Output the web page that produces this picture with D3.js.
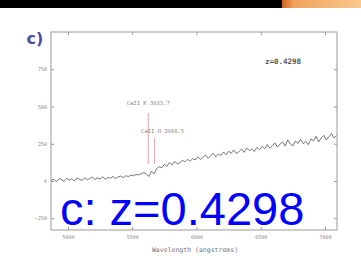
<!DOCTYPE html>
<html>
<head>
<meta charset="utf-8">
<script src="https://cdn.jsdelivr.net/npm/d3@7"></script>
<style>
  body { margin: 0; background: #fff; }
  svg { display: block; }
</style>
</head>
<body>
<script>
// spectrum (wavelength in angstroms, flux)
var wavelengths = [4870, 4890, 4910, 4930, 4950, 4970, 4990, 5010, 5030, 5050, 5070, 5090, 5110, 5130,
  5150, 5170, 5190, 5210, 5230, 5250, 5270, 5290, 5310, 5330, 5350, 5370, 5390, 5410, 5430, 5450,
  5470, 5490, 5510, 5530, 5550, 5570, 5590, 5610, 5630, 5650, 5670, 5690, 5710, 5730, 5750, 5770,
  5790, 5810, 5830, 5850, 5870, 5890, 5910, 5930, 5950, 5970, 5990, 6010, 6030, 6050, 6070, 6090,
  6110, 6130, 6150, 6170, 6190, 6210, 6230, 6250, 6270, 6290, 6310, 6330, 6350, 6370, 6390, 6410,
  6430, 6450, 6470, 6490, 6510, 6530, 6550, 6570, 6590, 6610, 6630, 6650, 6670, 6690, 6710, 6730,
  6750, 6770, 6790, 6810, 6830, 6850, 6870, 6890, 6910, 6930, 6950, 6970, 6990, 7010, 7030, 7050,
  7070, 7090];
var flux = [4, 12, -6, 15, 9, -2, 18, 6, 14, 0, 20, 11, 4, 22,
  8, 17, 26, 9, 21, 14, 28, 12, 24, 19, 30, 16, 27, 33, 22, 36,
  29, 40, 35, 44, 41, 50, 56, 48, 30, 66, 48, 84, 96, 88, 112, 98,
  124, 108, 130, 116, 121, 140, 128, 146, 132, 150, 141, 162, 144, 158, 175, 152,
  170, 186, 162, 180, 172, 195, 176, 200, 186, 208, 184, 196, 215, 192, 222, 204,
  214, 198, 226, 210, 232, 216, 244, 220, 236, 256, 228, 248, 262, 234, 276, 248,
  236, 268, 252, 280, 250, 266, 244, 282, 270, 300, 262, 288, 306, 276, 296, 318,
  288, 304];

var xTicks = [5000, 5500, 6000, 6500, 7000];
var yTicks = [-250, 0, 250, 500, 750];

var redshift = 0.4298;
var lineNames = ["CaII K 3933.7", "CaII H 3968.5"];
var lineRest = [3933.7, 3968.5];

var W = 361, H = 256;
var frame = {left: 51, right: 337, top: 32, bottom: 230};

var svg = d3.select("body").append("svg")
    .attr("width", W)
    .attr("height", H);

// top strip of the slide
var defs = svg.append("defs");
var grad = defs.append("linearGradient").attr("id", "orange");
grad.append("stop").attr("offset", "0").attr("stop-color", "#c8641e");
grad.append("stop").attr("offset", "0.15").attr("stop-color", "#f2a35e");
grad.append("stop").attr("offset", "1").attr("stop-color", "#f8c88e");
svg.append("rect").attr("x", 0).attr("y", 0).attr("width", W).attr("height", 8).attr("fill", "#000");
svg.append("rect").attr("x", 282).attr("y", 0).attr("width", W - 282).attr("height", 8).attr("fill", "url(#orange)");

var x = d3.scaleLinear().domain([4868, 7093]).range([frame.left, frame.right]);
var y = d3.scaleLinear().domain([-329, 1000]).range([frame.bottom, frame.top]);

var axisColor = "#999";

function styleAxis(g) {
  g.select(".domain").remove();
  g.selectAll(".tick line").attr("stroke", axisColor);
  g.selectAll(".tick text")
    .attr("fill", "#888")
    .style("font-family", "DejaVu Sans Mono, monospace")
    .style("font-size", "5px");
}

svg.append("g")
    .attr("transform", "translate(0," + frame.bottom + ")")
    .call(d3.axisBottom(x).tickValues(xTicks).tickSize(-3).tickPadding(5).tickFormat(d3.format("d")))
    .call(styleAxis);
svg.append("g")
    .attr("transform", "translate(0," + frame.top + ")")
    .call(d3.axisTop(x).tickValues(xTicks).tickSize(-3).tickFormat(""))
    .call(styleAxis);
svg.append("g")
    .attr("transform", "translate(" + frame.left + ",0)")
    .call(d3.axisLeft(y).tickValues(yTicks).tickSize(-3).tickPadding(4).tickFormat(d3.format("d")))
    .call(styleAxis);
svg.append("g")
    .attr("transform", "translate(" + frame.right + ",0)")
    .call(d3.axisRight(y).tickValues(yTicks).tickSize(-3).tickFormat(""))
    .call(styleAxis);

svg.append("rect")
    .attr("x", frame.left)
    .attr("y", frame.top)
    .attr("width", frame.right - frame.left)
    .attr("height", frame.bottom - frame.top)
    .attr("fill", "none")
    .attr("stroke", axisColor)
    .attr("stroke-width", 1);

svg.append("text")
    .attr("x", (frame.left + frame.right) / 2 + 1)
    .attr("y", 252)
    .attr("text-anchor", "middle")
    .attr("fill", "#777")
    .style("font-family", "DejaVu Sans Mono, monospace")
    .style("font-size", "6.5px")
    .text("Wavelength (angstroms)");

// absorption line markers
var labelY = [105, 133];
var lineTop = [113, 138];
lineRest.forEach(function (rest, i) {
  var lx = x(rest * (1 + redshift));
  svg.append("line")
      .attr("x1", lx).attr("x2", lx)
      .attr("y1", lineTop[i]).attr("y2", 164)
      .attr("stroke", "#e3a3a3")
      .attr("stroke-width", 1);
  svg.append("text")
      .attr("x", lx + i * 8)
      .attr("y", labelY[i])
      .attr("text-anchor", "middle")
      .attr("fill", "#888")
      .style("font-family", "DejaVu Sans Mono, monospace")
      .style("font-size", "5.5px")
      .text(lineNames[i]);
});

var line = d3.line()
    .x(function (d, i) { return x(wavelengths[i]); })
    .y(function (d) { return y(d); });

svg.append("path")
    .datum(flux)
    .attr("d", line)
    .attr("fill", "none")
    .attr("stroke", "#555")
    .attr("stroke-width", 0.8);

svg.append("text")
    .attr("x", 283)
    .attr("y", 64)
    .attr("text-anchor", "middle")
    .attr("fill", "#555")
    .style("font-family", "DejaVu Sans Mono, monospace")
    .style("font-weight", "bold")
    .style("font-size", "7.5px")
    .text("z=" + redshift);

svg.append("text")
    .attr("x", 35)
    .attr("y", 44)
    .attr("text-anchor", "middle")
    .attr("fill", "#4b4ba0")
    .style("font-family", "DejaVu Sans, sans-serif")
    .style("font-weight", "600")
    .style("font-size", "16px")
    .text("c)");

svg.append("text")
    .attr("x", 60)
    .attr("y", 225)
    .attr("fill", "#0000ff")
    .style("font-family", "Liberation Sans, Arial, sans-serif")
    .style("font-size", "47px")
    .text("c: z=" + redshift);
</script>
</body>
</html>
